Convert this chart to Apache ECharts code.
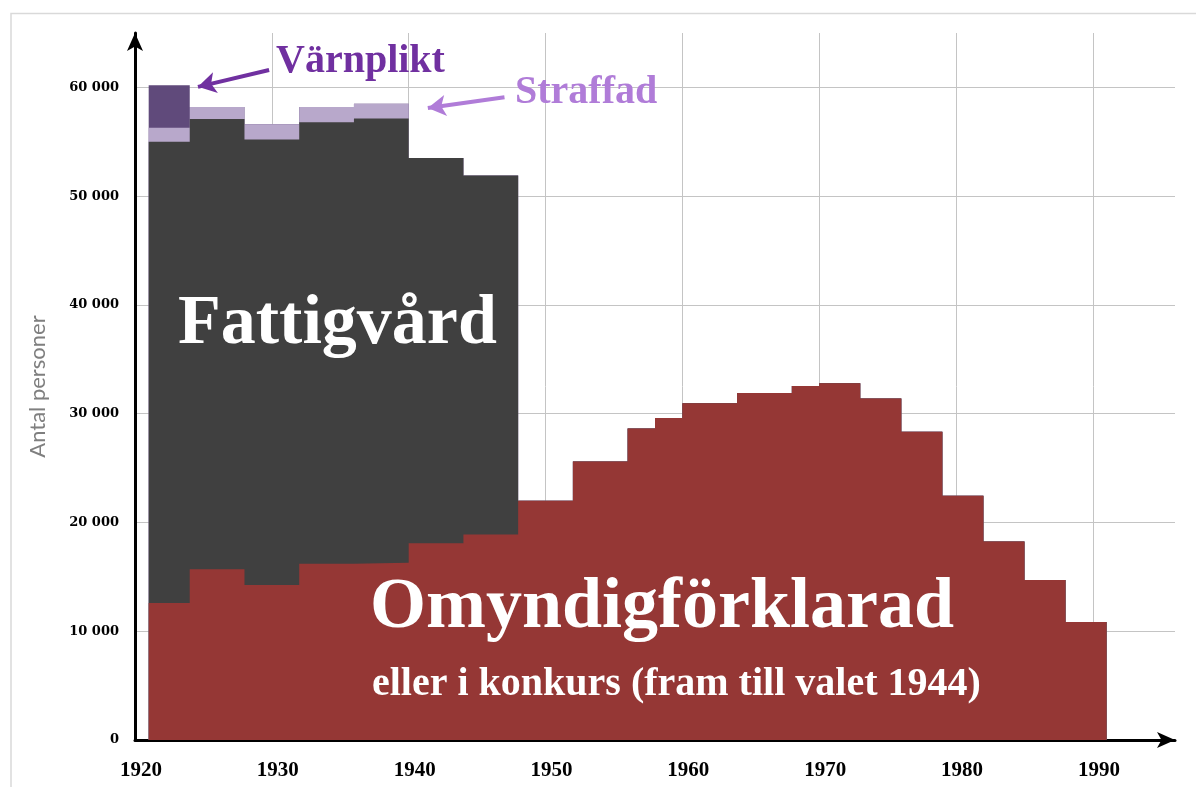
<!DOCTYPE html>
<html>
<head>
<meta charset="utf-8">
<script src="https://cdn.jsdelivr.net/npm/echarts@6/dist/echarts.min.js"></script>
<style>
  html, body { margin: 0; padding: 0; background: #fff; }
  #chart { width: 1196px; height: 787px; }
</style>
</head>
<body>
<div id="chart"></div>
<script>
// valår (election years), each value holds until the next election
var valAr = [1921, 1924, 1928, 1932, 1936, 1940, 1944, 1948, 1952, 1956, 1958,
  1960, 1964, 1968, 1970, 1973, 1976, 1979, 1982, 1985, 1988];
var slutAr = 1991;

var omyndig = [12600, 15700, 14250, 16200, 16300, 18100, 18900, 22000, 25600, 28650, 29600,
  30950, 31900, 32550, 32800, 31400, 28350, 22450, 18250, 14700, 10850];
var fattigvard = [42400, 41400, 40950, 40600, 40850, 35400, 33000, 0, 0, 0, 0,
  0, 0, 0, 0, 0, 0, 0, 0, 0, 0];
var straffad = [1300, 1100, 1400, 1400, 1350, 0, 0, 0, 0, 0, 0,
  0, 0, 0, 0, 0, 0, 0, 0, 0, 0];
var varnplikt = [3900, 0, 0, 0, 0, 0, 0, 0, 0, 0, 0,
  0, 0, 0, 0, 0, 0, 0, 0, 0, 0];

var yTicks = [0, 10000, 20000, 30000, 40000, 50000, 60000];
var xTicks = [1920, 1930, 1940, 1950, 1960, 1970, 1980, 1990];

// stack by hand: each layer is drawn from 0 up to its cumulative top,
// upper layers first so the lower ones cover them
function addUp(layers) {
  return valAr.map(function (y, i) {
    return layers.reduce(function (s, l) { return s + l[i]; }, 0);
  });
}

function toPoints(vals) {
  var pts = valAr.map(function (y, i) { return [y, vals[i]]; });
  pts.push([slutAr, vals[vals.length - 1]]);
  return pts;
}

function stepSeries(name, vals, color) {
  return {
    name: name,
    type: "line",
    step: "end",
    showSymbol: false,
    lineStyle: { width: 0 },
    areaStyle: { color: color, opacity: 1, origin: "start" },
    data: toPoints(vals)
  };
}

var serif = "'Liberation Serif', 'DejaVu Serif', serif";
var myChart = echarts.init(document.getElementById("chart"));

var series = [
  stepSeries("Värnplikt", addUp([omyndig, fattigvard, straffad, varnplikt]), "#604a7b"),
  stepSeries("Straffad", addUp([omyndig, fattigvard, straffad]), "#b8a8cb"),
  stepSeries("Fattigvård", addUp([omyndig, fattigvard]), "#404040"),
  stepSeries("Omyndigförklarad", omyndig, "#953735")
];

// arrows pointing at the small layers
series[0].markLine = {
  silent: true,
  symbol: ["none", "arrow"],
  symbolSize: [16, 18],
  label: { show: false },
  data: [
    [
      { coord: [1929.8, 61600], lineStyle: { color: "#7030a0", width: 4, type: "solid" } },
      { coord: [1924.6, 60050] }
    ],
    [
      { coord: [1947, 59100], lineStyle: { color: "#b07cd8", width: 4, type: "solid" } },
      { coord: [1941.4, 58100] }
    ]
  ]
};

myChart.setOption({
  animation: false,
  grid: { left: 135, right: 21, top: 33, bottom: 47 },
  xAxis: {
    type: "value",
    min: xTicks[0],
    max: 1996,
    interval: 10,
    axisLine: {
      lineStyle: { color: "#000", width: 3 },
      symbol: ["none", "arrow"],
      symbolSize: [12, 18]
    },
    axisTick: { show: false },
    axisLabel: {
      showMaxLabel: false,
      margin: 20,
      padding: [0, 0, 0, 12],
      color: "#000",
      fontFamily: serif,
      fontWeight: "bold",
      fontSize: 21,
      formatter: function (v) { return xTicks.indexOf(v) >= 0 ? String(v) : ""; }
    },
    splitLine: { show: true, showMaxLine: false, lineStyle: { color: "#c4c4c4", width: 1 } }
  },
  yAxis: {
    type: "value",
    min: 0,
    max: 65000,
    interval: 10000,
    name: "Antal personer",
    nameLocation: "middle",
    nameGap: 86,
    nameTextStyle: { color: "#7f7f7f", fontFamily: "Lato, 'Open Sans', sans-serif", fontSize: 22 },
    axisLine: {
      show: true,
      lineStyle: { color: "#000", width: 3 },
      symbol: ["none", "arrow"],
      symbolSize: [12, 18]
    },
    axisTick: { show: false },
    axisLabel: {
      showMaxLabel: false,
      margin: 16,
      color: "#000",
      fontFamily: "'DejaVu Serif', serif",
      fontWeight: "bold",
      fontSize: 13,
      formatter: function (v) {
        if (yTicks.indexOf(v) < 0) return "";
        return v === 0 ? "0" : (v / 1000) + " 000";
      }
    },
    splitLine: { show: true, showMaxLine: false, lineStyle: { color: "#c4c4c4", width: 1 } }
  },
  graphic: [
    {
      type: "rect", z: -10, silent: true,
      shape: { x: 11, y: 13.5, width: 1400, height: 900 },
      style: { fill: "none", stroke: "#d9d9d9", lineWidth: 1.5 }
    },
    {
      type: "text", left: 178, top: 290, z: 100,
      style: { text: "Fattigvård", fill: "#fff", font: "bold 70px " + serif }
    },
    {
      type: "text", left: 370, top: 572, z: 100,
      style: { text: "Omyndigförklarad", fill: "#fff", font: "bold 72px " + serif }
    },
    {
      type: "text", left: 372, top: 665, z: 100,
      style: { text: "eller i konkurs (fram till valet 1944)", fill: "#fff", font: "bold 40px " + serif }
    },
    {
      type: "text", left: 276, top: 42, z: 100,
      style: { text: "Värnplikt", fill: "#7030a0", font: "bold 40px " + serif }
    },
    {
      type: "text", left: 515, top: 73, z: 100,
      style: { text: "Straffad", fill: "#b07cd8", font: "bold 40px " + serif }
    }
  ],
  series: series
});

window.onresize = myChart.resize;
</script>
</body>
</html>
